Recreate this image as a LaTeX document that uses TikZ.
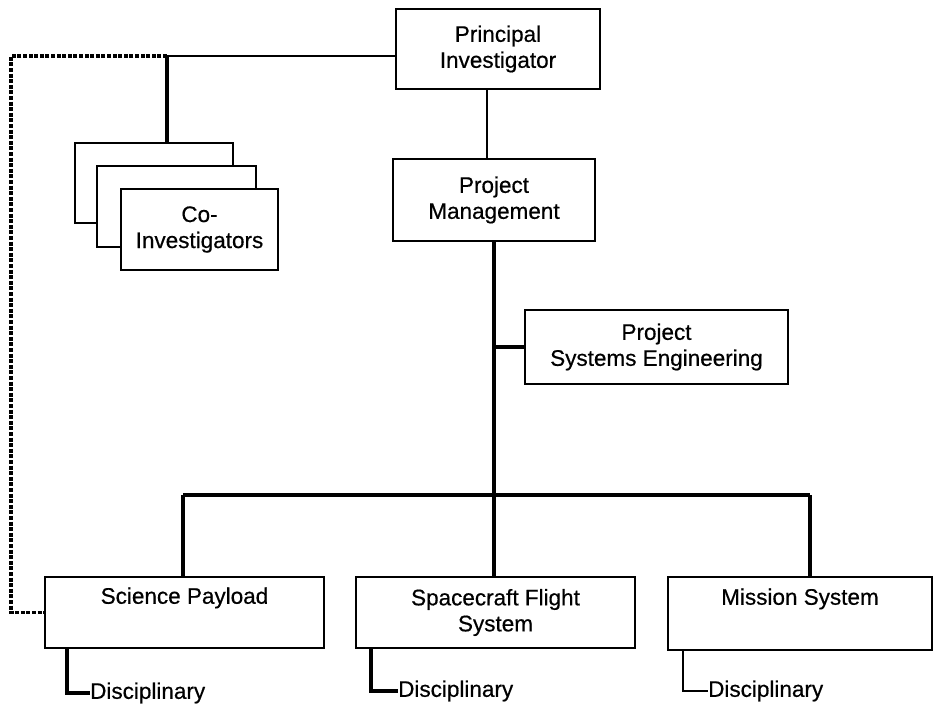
\documentclass[tikz,border=0pt]{standalone}
\usepackage{fontspec}
\setmainfont{Liberation Sans}[FakeBold=0.5]
\begin{document}
\begin{tikzpicture}[x=1pt,y=-1pt,
  orgbox/.style={draw=black, line width=1.5pt, fill=white, align=center,
    inner sep=0pt, font=\fontsize{22.5}{26}\selectfont},
  lbl/.style={inner sep=0pt, anchor=west, font=\fontsize{22.5}{26}\selectfont},
  thinlink/.style={line width=1.5pt},
  thicklink/.style={line width=3.8pt},
  dotlink/.style={line width=3.2pt, dash pattern=on 4pt off 1.6pt}]
\useasboundingbox (0,0) rectangle (935,707);

% top of the hierarchy
\node[orgbox, minimum width=204pt, minimum height=80pt] (pi) at (498,49)
  {Principal\\Investigator};
\node[orgbox, minimum width=202pt, minimum height=82pt] (pm) at (494,200)
  {Project\\Management};
\node[orgbox, minimum width=263pt, minimum height=74pt] (pse) at (656.5,347)
  {Project\\Systems Engineering};

% stacked co-investigator cards
\node[orgbox, minimum width=158pt, minimum height=80pt] (coa) at (154,183) {};
\node[orgbox, minimum width=159pt, minimum height=81pt] (cob) at (176.5,206.5) {};
\node[orgbox, minimum width=157pt, minimum height=81pt] (coc) at (199.5,229.5)
  {Co-\\Investigators};

% lower tier
\node[orgbox, minimum width=279pt, minimum height=71pt] (sci) at (184.5,612.5)
  {Science Payload\\\strut};
\node[orgbox, minimum width=279pt, minimum height=71pt] (sfs) at (495.5,612.5)
  {Spacecraft Flight\\System};
\node[orgbox, minimum width=264pt, minimum height=73pt] (ms) at (800,613.5)
  {Mission System\\\strut};

\node[lbl] (dsci) at (90,693) {Disciplinary};
\node[lbl] (dsfs) at (398,691) {Disciplinary};
\node[lbl] (dms)  at (708,691) {Disciplinary};

% junction points
\coordinate (j1) at (167,56);
\coordinate (dl) at (11,56);
\coordinate (trunk) at (494,495);
\coordinate (barl) at (183,495);
\coordinate (barr) at (810,495);

% PI links
\draw[thinlink] (pi.west |- j1) -- (j1);
\draw[thicklink] (j1) -- (j1 |- coa.north);
\draw[dotlink] (j1) -- (dl) -- (dl |- sci.west) -- (sci.west);
\draw[thinlink] ([xshift=-11pt]pi.south) -- ([xshift=-11pt]pi.south |- pm.north);

% project management trunk and branches
\draw[thicklink] (pm.south) -- (trunk);
\draw[thicklink] (pm.south |- pse.west) -- (pse.west);
\draw[thicklink] (barl) -- (barr);
\draw[thicklink] (barl) -- (barl |- sci.north);
\draw[thicklink] (trunk) -- (trunk |- sfs.north);
\draw[thicklink] (barr) -- (barr |- ms.north);

% disciplinary leads
\draw[line width=3.6pt] ([xshift=23pt]sci.south west) |- (dsci.west);
\draw[line width=3.6pt] ([xshift=16pt]sfs.south west) |- (dsfs.west);
\draw[line width=2.2pt] ([xshift=16pt]ms.south west) |- (dms.west);
\end{tikzpicture}
\end{document}
